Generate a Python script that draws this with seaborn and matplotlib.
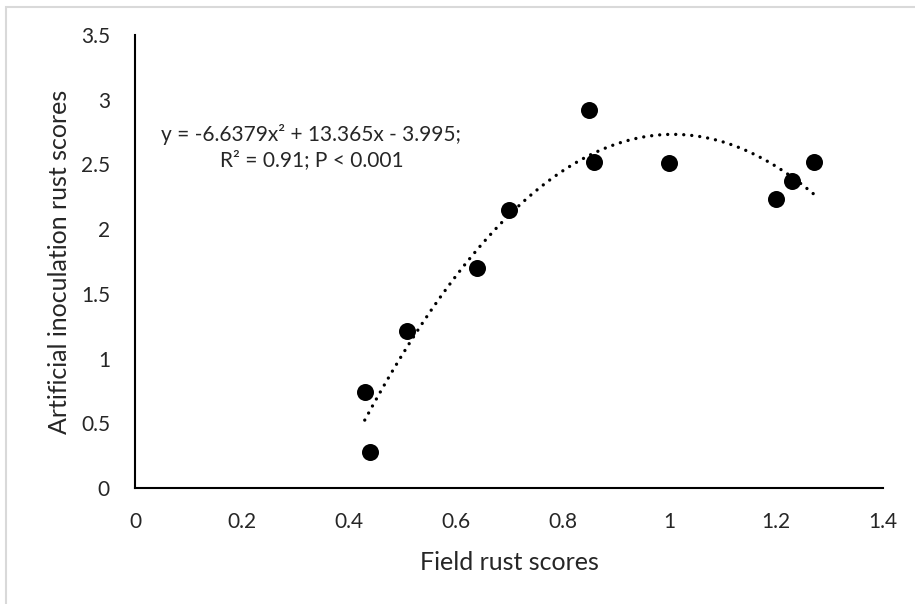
import numpy as np
import pandas as pd
import matplotlib
matplotlib.use("Agg")
import matplotlib.pyplot as plt
import seaborn as sns
from matplotlib.patches import Rectangle

# Data
field_scores = [0.43, 0.44, 0.51, 0.64, 0.70, 0.85, 0.86, 1.00, 1.20, 1.23, 1.27]
artificial_scores = [0.74, 0.28, 1.21, 1.70, 2.15, 2.92, 2.52, 2.51, 2.23, 2.37, 2.52]
# Trendline coefficients from the chart annotation
coef_a, coef_b, coef_c = -6.6379, 13.365, -3.995
equation_text = "y = -6.6379x\u00b2 + 13.365x - 3.995;\nR\u00b2 = 0.91; P < 0.001"
x_ticks = [0, 0.2, 0.4, 0.6, 0.8, 1, 1.2, 1.4]
x_tick_labels = ["0", "0.2", "0.4", "0.6", "0.8", "1", "1.2", "1.4"]
y_ticks = [0, 0.5, 1, 1.5, 2, 2.5, 3, 3.5]
y_tick_labels = ["0", "0.5", "1", "1.5", "2", "2.5", "3", "3.5"]

sns.set_style("white")
plt.rcParams["font.family"] = ["Lato", "DejaVu Sans"]

df = pd.DataFrame({"field": field_scores, "artificial": artificial_scores})

fig = plt.figure(figsize=(9.15, 6.04), dpi=100)
fig.patches.append(Rectangle((6 / 915, -0.1), 1.2, (604 - 7) / 604 + 0.1,
                             transform=fig.transFigure, fill=False,
                             edgecolor="#d9d9d9", linewidth=1.5))
ax = fig.add_axes([135 / 915, 116 / 604, (883 - 135) / 915, (488 - 35) / 604])

sns.scatterplot(data=df, x="field", y="artificial", ax=ax, s=150,
                color="black", edgecolor="black", linewidth=0, zorder=3)

xs = np.linspace(min(field_scores), max(field_scores), 400)
ys = coef_a * xs ** 2 + coef_b * xs + coef_c
ax.plot(xs, ys, color="black", linestyle=(0, (0.01, 2.4)), linewidth=2.4,
        dash_capstyle="round", solid_capstyle="round", zorder=2)

ax.set_xlim(0, 1.4)
ax.set_ylim(0, 3.5)
ax.set_xticks(x_ticks)
ax.set_xticklabels(x_tick_labels)
ax.set_yticks(y_ticks)
ax.set_yticklabels(y_tick_labels)
ax.tick_params(axis="x", length=0, labelsize=15, pad=17)
ax.tick_params(axis="y", length=0, labelsize=15, pad=18)
ax.set_xlabel("Field rust scores", fontsize=18, labelpad=14)
ax.set_ylabel("Artificial inoculation rust scores", fontsize=18, labelpad=7)

for side in ["top", "right"]:
    ax.spines[side].set_visible(False)
for side in ["left", "bottom"]:
    ax.spines[side].set_color("black")
    ax.spines[side].set_linewidth(1.5)

ax.text(0.33, 2.635, equation_text, ha="center", va="center", fontsize=15,
        linespacing=1.3, multialignment="center")

fig.savefig("out.png", dpi=100, facecolor="white")
